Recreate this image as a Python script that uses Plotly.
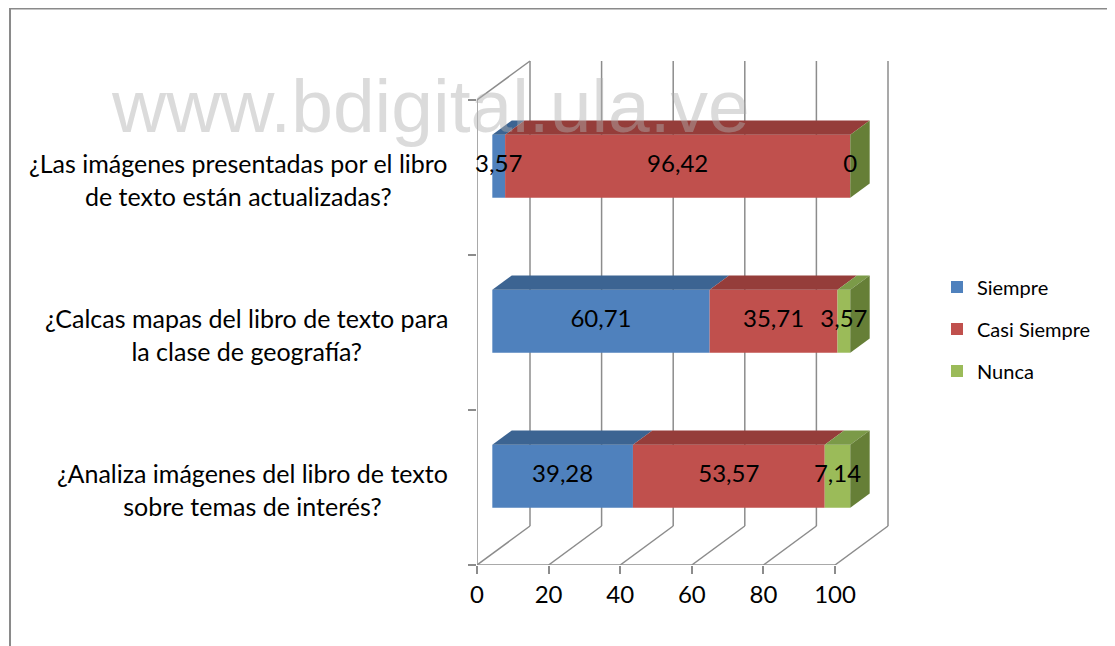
import plotly.graph_objects as go

# ---------------- data ----------------
categories = [
    "¿Analiza imágenes del libro de texto<br>sobre temas de interés?",
    "¿Calcas mapas del libro de texto para<br>la clase de geografía?",
    "¿Las imágenes presentadas por el libro<br>de texto están actualizadas?",
]
series_names = ["Siempre", "Casi Siempre", "Nunca"]
siempre = [39.28, 60.71, 3.57]
casi_siempre = [53.57, 35.71, 96.42]
nunca = [7.14, 3.57, 0]
value_labels_siempre = ["39,28", "60,71", "3,57"]
value_labels_casi = ["53,57", "35,71", "96,42"]
value_labels_nunca = ["7,14", "3,57", "0"]
x_ticks = [0, 20, 40, 60, 80, 100]
x_tick_labels = ["0", "20", "40", "60", "80", "100"]
watermark = "www.bdigital.ula.ve"

series_values = [siempre, casi_siempre, nunca]
series_labels = [value_labels_siempre, value_labels_casi, value_labels_nunca]
front_colors = ["#4F81BD", "#C0504D", "#9BBB59"]
top_colors = ["#3C6492", "#953D3A", "#7B9A48"]
side_colors = ["#34557C", "#7E3230", "#667F37"]

# ---------------- geometry (page pixels -> figure -> data) ----------------
OFF = 8                                       # default body margin of the page
W, H = 1115 - OFF, 646 - OFF
PL, PR, PT, PB = 477 - OFF, 900 - OFF, 55 - OFF, 565 - OFF   # plot area (figure px)
PX_PER_X = 3.58                               # px per value unit
PX_PER_Y = 155.0                              # px per category
X_MAX = (PR - PL) / PX_PER_X
Y_MIN = -0.5
Y_MAX = Y_MIN + (PB - PT) / PX_PER_Y
DX = 53 / PX_PER_X                            # depth offset in x units
DY = 39 / PX_PER_Y                            # depth offset in y units
D0, D1 = 0.289, 0.655                         # bar front / back depth
BAR_W = 63 / PX_PER_Y
FONT = "Lato"
GRID = "#8C8C8C"

def P(x, y, d):
    return x + d * DX, y + d * DY

def px_to_paper_x(page_px):
    return (page_px - OFF - PL) / (PR - PL)

def px_to_paper_y(page_py):
    return (PB - (page_py - OFF)) / (PB - PT)

fig = go.Figure()

n = len(categories)
ycat = list(range(n))
cum = [0.0] * n

# front faces (bars)
for s, name in enumerate(series_names):
    vals = series_values[s]
    fig.add_trace(go.Bar(
        orientation="h",
        name=name,
        y=[y + D0 * DY for y in ycat],
        x=vals,
        base=[c + D0 * DX for c in cum],
        width=BAR_W,
        marker=dict(color=front_colors[s], line=dict(width=0)),
        legendgroup=name,
        hoverinfo="skip",
    ))
    # top faces
    for i in range(n):
        a, b = cum[i], cum[i] + vals[i]
        yt = ycat[i] + BAR_W / 2
        pts = [P(a, yt, D0), P(b, yt, D0), P(b, yt, D1), P(a, yt, D1), P(a, yt, D0)]
        fig.add_trace(go.Scatter(
            x=[p[0] for p in pts], y=[p[1] for p in pts],
            mode="lines", fill="toself", fillcolor=top_colors[s],
            line=dict(width=0), showlegend=False, hoverinfo="skip",
            legendgroup=name,
        ))
    cum = [cum[i] + vals[i] for i in range(n)]

# right side faces of each bar (last segment colour)
for i in range(n):
    b = cum[i]
    yb, yt = ycat[i] - BAR_W / 2, ycat[i] + BAR_W / 2
    pts = [P(b, yb, D0), P(b, yt, D0), P(b, yt, D1), P(b, yb, D1), P(b, yb, D0)]
    fig.add_trace(go.Scatter(
        x=[p[0] for p in pts], y=[p[1] for p in pts],
        mode="lines", fill="toself", fillcolor=side_colors[2],
        line=dict(width=0), showlegend=False, hoverinfo="skip",
    ))

# data labels
cum = [0.0] * n
for s in range(len(series_names)):
    vals = series_values[s]
    fig.add_trace(go.Scatter(
        x=[cum[i] + vals[i] / 2 + D0 * DX for i in range(n)],
        y=[ycat[i] + D0 * DY for i in range(n)],
        mode="text", text=series_labels[s],
        textfont=dict(family=FONT, size=24, color="#000000"),
        showlegend=False, hoverinfo="skip", cliponaxis=False,
    ))
    cum = [cum[i] + vals[i] for i in range(n)]

# ---------------- 3D walls / grid (decoration) ----------------
shapes = []
line = dict(color=GRID, width=1.5)
for t in x_ticks:
    x0, y0 = t, Y_MIN
    x1, y1 = P(t, Y_MIN, 1)
    shapes.append(dict(type="line", xref="x", yref="y", x0=x0, y0=y0, x1=x1, y1=y1, line=line, layer="below"))
    x2, y2 = P(t, n - 0.5, 1)
    shapes.append(dict(type="line", xref="x", yref="y", x0=x1, y0=y1, x1=x2, y1=y2, line=line, layer="below"))
# front floor edge
shapes.append(dict(type="line", xref="x", yref="y", x0=0, y0=Y_MIN, x1=x_ticks[-1], y1=Y_MIN, line=line, layer="below"))
# left wall
shapes.append(dict(type="line", xref="x", yref="y", x0=0, y0=Y_MIN, x1=0, y1=n - 0.5, line=line, layer="below"))
lx, ly = P(0, n - 0.5, 1)
shapes.append(dict(type="line", xref="x", yref="y", x0=0, y0=n - 0.5, x1=lx, y1=ly, line=line, layer="below"))
# outer border
shapes.append(dict(type="path", xref="paper", yref="paper",
                   path="M {:.4f},{:.4f} L {:.4f},{:.4f} L {:.4f},{:.4f} L {:.4f},{:.4f}".format(
                       px_to_paper_x(10), px_to_paper_y(660),
                       px_to_paper_x(10), px_to_paper_y(8.5),
                       px_to_paper_x(1112), px_to_paper_y(8.5),
                       px_to_paper_x(1112), px_to_paper_y(660)),
                   line=dict(color="#8A8A8A", width=2)))

# ---------------- annotations ----------------
annotations = []
for i, label in enumerate(categories):
    annotations.append(dict(x=px_to_paper_x(450), xref="paper", y=ycat[i] - 2 / PX_PER_Y, yref="y",
                            text=label, showarrow=False, xanchor="right", yanchor="middle",
                            align="center",
                            font=dict(family=FONT, size=25, color="#000000")))
annotations.append(dict(x=px_to_paper_x(430), xref="paper", y=px_to_paper_y(106), yref="paper",
                        text=watermark, showarrow=False, xanchor="center", yanchor="middle",
                        font=dict(family="Liberation Sans", size=75, color="rgba(175,175,175,0.45)")))

fig.update_layout(
    width=W, height=H,
    margin=dict(l=PL, r=W - PR, t=PT, b=H - PB, pad=0),
    paper_bgcolor="white", plot_bgcolor="rgba(0,0,0,0)",
    barmode="overlay",
    showlegend=True,
    legend=dict(x=px_to_paper_x(937), y=px_to_paper_y(329), xanchor="left", yanchor="middle",
                font=dict(family=FONT, size=20, color="#000000"),
                tracegroupgap=13, bgcolor="rgba(0,0,0,0)", itemsizing="constant"),
    xaxis=dict(range=[0, X_MAX], tickvals=x_ticks, ticktext=x_tick_labels,
               ticks="outside", ticklen=8, tickcolor=GRID, tickwidth=1.5,
               showgrid=False, zeroline=False, showline=False,
               tickfont=dict(family=FONT, size=24, color="#000000"), fixedrange=True),
    yaxis=dict(range=[Y_MIN, Y_MAX], tickvals=[k - 0.5 for k in range(n + 1)],
               ticks="outside", ticklen=8, tickcolor=GRID, tickwidth=1.5,
               showticklabels=False, showgrid=False, zeroline=False, showline=False, fixedrange=True),
    shapes=shapes,
    annotations=annotations,
)

fig.write_html("out.html")
